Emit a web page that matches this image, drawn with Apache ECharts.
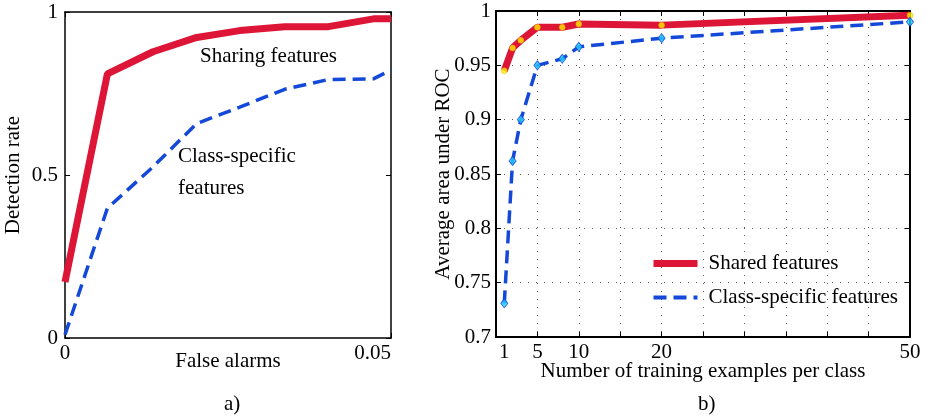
<!DOCTYPE html>
<html>
<head>
<meta charset="utf-8">
<script src="https://cdn.jsdelivr.net/npm/echarts@6/dist/echarts.min.js"></script>
<style>
  html, body { margin: 0; padding: 0; background: #fff; }
  #chart { width: 926px; height: 418px; }
</style>
</head>
<body>
<div id="chart"></div>
<script>
// a) ROC: detection rate vs false alarms
var falseAlarms = [0, 0.0065, 0.0135, 0.0202, 0.0268, 0.0337, 0.0404, 0.0473, 0.05];
var sharingRate = [0.172, 0.81, 0.878, 0.922, 0.943, 0.955, 0.955, 0.979, 0.979];
var classRateA  = [0.01, 0.398, 0.525, 0.658, 0.708, 0.763, 0.793, 0.795, 0.822];

// b) area under ROC vs number of training examples
var trainCounts = [1, 2, 3, 5, 8, 10, 20, 50];
var sharedAuc   = [0.945, 0.966, 0.973, 0.985, 0.985, 0.988, 0.987, 0.996];
var classAuc    = [0.731, 0.862, 0.900, 0.950, 0.956, 0.967, 0.975, 0.990];
var countTicks  = [1, 5, 10, 20, 50];

var RED = '#dd1537';
var BLUE = '#1448d8';
var FONT = 'Liberation Serif';
var TXT = '21px "Liberation Serif"';

function pairs(xs, ys) {
  return xs.map(function (x, i) { return [x, ys[i]]; });
}

var myChart = echarts.init(document.getElementById('chart'));

var lbl = { color: '#000', fontFamily: FONT, fontSize: 21 };
var tick = { inside: true, length: 5, lineStyle: { color: '#000' } };

// top / right axes only close the box and carry the mirrored ticks
function frameAxis(grid, pos, min, max, step, w) {
  return {
    gridIndex: grid, type: 'value', position: pos, min: min, max: max, interval: step,
    axisLine: { onZero: false, lineStyle: { color: '#000', width: w } },
    axisTick: tick, axisLabel: { show: false }, splitLine: { show: false }
  };
}

var option = {
  animation: false,
  grid: [
    { left: 65, top: 12, width: 326, height: 326 },
    { left: 496, top: 11, width: 414, height: 326 }
  ],
  xAxis: [
    {
      gridIndex: 0, type: 'value', min: 0, max: 0.05, interval: 0.05,
      axisLine: { onZero: false, lineStyle: { color: '#000', width: 1.5 } }, axisTick: tick,
      axisLabel: Object.assign({ margin: 5, alignMaxLabel: 'right' }, lbl),
      splitLine: { show: false },
      name: 'False alarms', nameLocation: 'middle', nameGap: 13, nameMoveOverlap: false,
      nameTextStyle: lbl
    },
    frameAxis(0, 'top', 0, 0.05, 0.05, 1.5),
    {
      gridIndex: 1, type: 'value', min: 0, max: 50, interval: 5,
      axisLine: { onZero: false, lineStyle: { color: '#000', width: 2 } }, axisTick: tick,
      axisLabel: Object.assign({ margin: 5, customValues: countTicks }, lbl),
      splitLine: { show: true, lineStyle: { color: '#555', width: 1, type: [1, 7] } },
      name: 'Number of training examples per class', nameLocation: 'middle', nameGap: 24,
      nameMoveOverlap: false, nameTextStyle: lbl
    },
    frameAxis(1, 'top', 0, 50, 5, 2)
  ],
  yAxis: [
    {
      gridIndex: 0, type: 'value', min: 0, max: 1, interval: 0.5,
      axisLine: { onZero: false, lineStyle: { color: '#000', width: 1.5 } }, axisTick: tick,
      axisLabel: Object.assign({ margin: 7 }, lbl),
      splitLine: { show: false },
      name: 'Detection rate', nameLocation: 'middle', nameGap: 41, nameMoveOverlap: false,
      nameTextStyle: lbl
    },
    frameAxis(0, 'right', 0, 1, 0.5, 1.5),
    {
      gridIndex: 1, type: 'value', min: 0.7, max: 1, interval: 0.05,
      axisLine: { onZero: false, lineStyle: { color: '#000', width: 2 } }, axisTick: tick,
      axisLabel: Object.assign({ margin: 5 }, lbl),
      splitLine: { show: true, lineStyle: { color: '#555', width: 1, type: [1, 7] } },
      name: 'Average area under ROC', nameLocation: 'middle', nameGap: 42, nameMoveOverlap: false,
      nameTextStyle: lbl
    },
    frameAxis(1, 'right', 0.7, 1, 0.05, 2)
  ],
  legend: {
    data: [
      { name: 'Shared features', lineStyle: { width: 7 } },
      { name: 'Class-specific features', lineStyle: { width: 4, type: [13, 7] } }
    ],
    orient: 'vertical', left: 645, top: 248,
    itemWidth: 44, itemHeight: 14, itemGap: 13,
    itemStyle: { opacity: 0 },
    textStyle: { color: '#000', fontFamily: FONT, fontSize: 21, padding: [0, 0, 0, 6] }
  },
  graphic: [
    { type: 'text', left: 200, top: 46, style: { text: 'Sharing features', font: TXT, fill: '#000' } },
    { type: 'text', left: 178, top: 146, style: { text: 'Class-specific', font: TXT, fill: '#000' } },
    { type: 'text', left: 178, top: 178, style: { text: 'features', font: TXT, fill: '#000' } },
    { type: 'text', left: 224, top: 394, style: { text: 'a)', font: TXT, fill: '#000' } },
    { type: 'text', left: 698, top: 394, style: { text: 'b)', font: TXT, fill: '#000' } }
  ],
  series: [
    {
      name: 'Sharing features (a)', type: 'line', xAxisIndex: 0, yAxisIndex: 0,
      data: pairs(falseAlarms, sharingRate), symbol: 'none',
      lineStyle: { color: RED, width: 7 }, itemStyle: { color: RED }
    },
    {
      name: 'Class-specific features (a)', type: 'line', xAxisIndex: 0, yAxisIndex: 0,
      data: pairs(falseAlarms, classRateA), symbol: 'none',
      lineStyle: { color: BLUE, width: 3.5, type: [13, 7] }, itemStyle: { color: BLUE }
    },
    {
      name: 'Shared features', type: 'line', xAxisIndex: 2, yAxisIndex: 2,
      data: pairs(trainCounts, sharedAuc), symbol: 'none',
      lineStyle: { color: RED, width: 7 }, itemStyle: { color: RED }
    },
    {
      name: 'Class-specific features', type: 'line', xAxisIndex: 2, yAxisIndex: 2,
      data: pairs(trainCounts, classAuc), symbol: 'none',
      lineStyle: { color: BLUE, width: 3.5, type: [13, 7] }, itemStyle: { color: BLUE }
    },
    {
      type: 'scatter', xAxisIndex: 2, yAxisIndex: 2,
      data: pairs(trainCounts, sharedAuc), symbol: 'circle', symbolSize: 6,
      itemStyle: { color: '#ffee00', borderColor: '#e8a000', borderWidth: 0.5 }, z: 5
    },
    {
      type: 'scatter', xAxisIndex: 2, yAxisIndex: 2,
      data: pairs(trainCounts, classAuc), symbol: 'diamond', symbolSize: [7, 9],
      itemStyle: { color: '#22d0ff', borderColor: BLUE, borderWidth: 1 }, z: 5
    }
  ]
};

myChart.setOption(option);
</script>
</body>
</html>
